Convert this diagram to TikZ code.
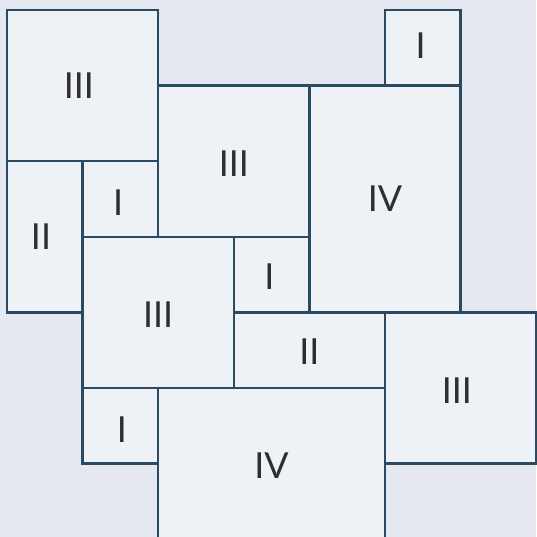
\documentclass[tikz,border=0pt]{standalone}
\usepackage{fontspec}
\setmainfont{Lato}
\definecolor{bgcol}{HTML}{E5E8F0}
\definecolor{tilefill}{HTML}{EEF2F6}
\definecolor{tileline}{HTML}{2B4A61}
\definecolor{labcol}{HTML}{2E2E2E}
\tikzset{
  tile/.style={fill=tilefill, draw=tileline, line width=0.85pt},
  lab/.style={text=labcol, font=\fontsize{13.5}{16}\selectfont}
}
\begin{document}
\begin{tikzpicture}
  \useasboundingbox[fill=bgcol] (0,0) rectangle (7.09,-7.103);
  \begin{scope}[shift={(0.0926,-0.132)}]
    % tiles
    \draw[tile] (0,0) rectangle (2,-2);
    \draw[tile] (5,0) rectangle (6,-1);
    \draw[tile] (2,-1) rectangle (4,-3);
    \draw[tile] (4,-1) rectangle (6,-4);
    \draw[tile] (0,-2) rectangle (1,-4);
    \draw[tile] (1,-2) rectangle (2,-3);
    \draw[tile] (1,-3) rectangle (3,-5);
    \draw[tile] (3,-3) rectangle (4,-4);
    \draw[tile] (3,-4) rectangle (5,-5);
    \draw[tile] (5,-4) rectangle (7,-6);
    \draw[tile] (1,-5) rectangle (2,-6);
    \draw[tile] (2,-5) rectangle (5,-7);
    % labels
    \node[lab] (tA) at (0.95,-1) {III};
    \node[lab] (tB) at (5.47,-0.47) {I};
    \node[lab] (tC) at (3,-2.03) {III};
    \node[lab] (tD) at (5,-2.5) {IV};
    \node[lab] (tE) at (0.45,-3) {II};
    \node[lab] (tF) at (1.47,-2.55) {I};
    \node[lab] (tG) at (2,-4.03) {III};
    \node[lab] (tH) at (3.47,-3.53) {I};
    \node[lab] (tI) at (4,-4.52) {II};
    \node[lab] (tJ) at (5.95,-5.03) {III};
    \node[lab] (tK) at (1.52,-5.55) {I};
    \node[lab] (tL) at (3.5,-6.03) {IV};
  \end{scope}
\end{tikzpicture}
\end{document}
